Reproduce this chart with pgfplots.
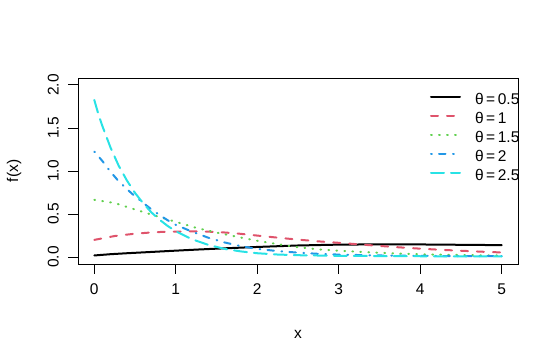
\documentclass[border=0pt]{standalone}
\usepackage{pgfplots}
\pgfplotsset{compat=1.18}
\usepackage{fontspec}
\setmainfont{Liberation Sans}
\definecolor{rred}{HTML}{DF536B}
\definecolor{rgreen}{HTML}{61D04F}
\definecolor{rblue}{HTML}{2297E6}
\definecolor{rcyan}{HTML}{28E2E5}
\newcommand{\rfont}{\fontsize{15.5bp}{18bp}\selectfont}
\begin{document}
\begin{tikzpicture}
\useasboundingbox (0,0) rectangle (559bp,362bp);
\begin{axis}[
  name=ax,
  at={(78bp,98bp)}, anchor=south west,
  scale only axis, width=440bp, height=186bp,
  xmin=-0.2, xmax=5.2, ymin=-0.08, ymax=2.08,
  xtick={0,1,2,3,4,5}, ytick={0,0.5,1,1.5,2},
  tick align=outside, xtick pos=bottom, ytick pos=left,
  major tick length=9.6bp,
  axis line style={line width=0.8bp},
  every tick/.style={black, line width=0.8bp},
  /pgf/number format/assume math mode=true,
  ticklabel style={font=\rfont},
  xticklabel shift=7bp, yticklabel shift=6bp,
  yticklabel style={rotate=90, /pgf/number format/.cd, fixed, fixed zerofill, precision=1},
  xlabel={x}, ylabel={f(x)},
  label style={font=\rfont},
  xlabel style={at={(axis description cs:0.5,-0.398)}, anchor=base},
  ylabel style={at={(axis description cs:-0.145,0.5)}, anchor=center},
  legend style={draw=none, fill=none, at={(axis description cs:0.8,0.914)}, anchor=north west,
    inner sep=0pt, outer sep=0pt, row sep=5bp, font=\rfont,
    nodes={inner sep=0pt, text height=11bp, text depth=3bp},
    /tikz/every odd column/.append style={column sep=14bp}},
  legend cell align=left,
  legend image code/.code={\draw[#1] (0bp,4bp) -- (29bp,4bp);},
  every axis plot/.append style={line width=2bp, line cap=round},
]
\addplot[black, solid] coordinates {
(0,0.019)(0.2,0.034)(0.4,0.045)(0.6,0.055)(0.8,0.065)(1.0,0.075)(1.25,0.087)(1.5,0.098)(1.75,0.108)(2.0,0.118)(2.5,0.135)(3.0,0.145)(3.5,0.148)(4.0,0.147)(4.5,0.143)(5.0,0.139)};
\addlegendentry{θ\,=\,0.5}
\addplot[rred, dash pattern=on 7bp off 9bp] coordinates {
(0,0.2)(0.25,0.245)(0.5,0.272)(0.75,0.29)(1.0,0.297)(1.25,0.298)(1.5,0.293)(1.75,0.275)(2.0,0.25)(2.25,0.226)(2.5,0.203)(2.75,0.183)(3.0,0.166)(3.25,0.148)(3.5,0.13)(3.75,0.113)(4.0,0.098)(4.25,0.085)(4.5,0.074)(4.75,0.063)(5.0,0.054)};
\addlegendentry{θ\,=\,1}
\addplot[rgreen, dash pattern=on 0.8bp off 7.2bp] coordinates {
(0,0.665)(0.25,0.628)(0.5,0.553)(0.75,0.48)(1.0,0.41)(1.25,0.34)(1.5,0.285)(1.75,0.236)(2.0,0.19)(2.25,0.15)(2.5,0.115)(2.75,0.09)(3.0,0.074)(3.5,0.05)(4.0,0.033)(4.5,0.024)(5.0,0.018)};
\addlegendentry{θ\,=\,1.5}
\addplot[rblue, dash pattern=on 0.8bp off 7.2bp on 6.5bp off 7.5bp] coordinates {
(0,1.225)(0.1,1.115)(0.2,0.99)(0.3,0.88)(0.4,0.79)(0.5,0.705)(0.6,0.63)(0.7,0.555)(0.8,0.49)(0.9,0.428)(1.0,0.375)(1.2,0.295)(1.4,0.225)(1.6,0.17)(1.8,0.127)(2.0,0.095)(2.25,0.07)(2.5,0.052)(2.75,0.038)(3.0,0.029)(3.5,0.019)(4.0,0.014)(4.5,0.012)(5.0,0.011)};
\addlegendentry{θ\,=\,2}
\addplot[rcyan, dash pattern=on 13bp off 7bp] coordinates {
(0,1.825)(0.05,1.66)(0.1,1.52)(0.2,1.27)(0.3,1.06)(0.4,0.89)(0.5,0.745)(0.6,0.625)(0.7,0.52)(0.8,0.435)(0.9,0.362)(1.0,0.3)(1.2,0.207)(1.4,0.142)(1.6,0.095)(1.8,0.066)(2.0,0.045)(2.25,0.03)(2.5,0.022)(3.0,0.015)(3.5,0.012)(4.0,0.01)(5.0,0.008)};
\addlegendentry{θ\,=\,2.5}
\end{axis}
\fill[white] ([xshift=0.45bp]ax.north east) rectangle ++(45bp,-110bp);
\draw[line width=0.8bp] (ax.north east) -- (ax.south east);
\end{tikzpicture}
\end{document}
